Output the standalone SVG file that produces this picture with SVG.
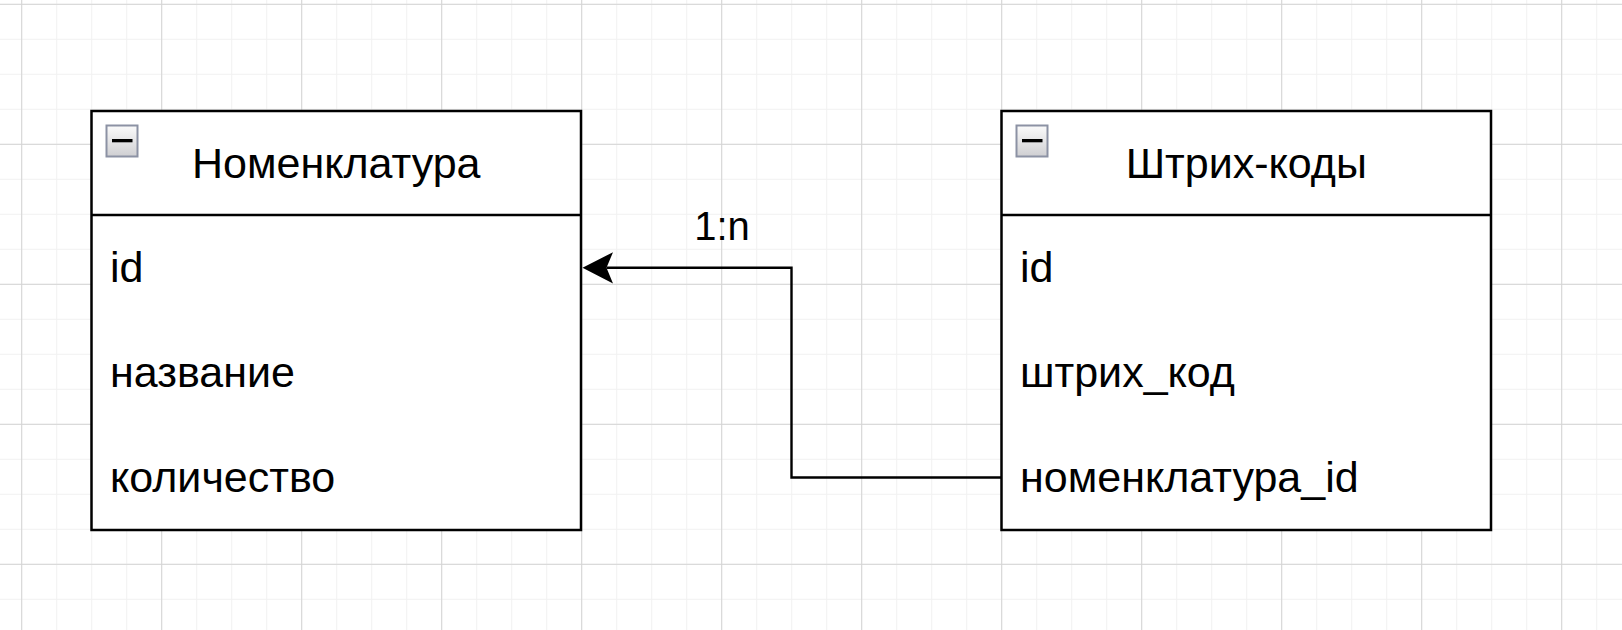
<svg xmlns="http://www.w3.org/2000/svg" width="1622" height="630" viewBox="0 0 1622 630">
  <style>
    .tbl { fill: #ffffff; stroke: #000000; stroke-width: 2.5; }
    .sep { stroke: #000000; stroke-width: 2.5; fill: none; }
    .title { font-family: "Liberation Sans", Arial, sans-serif; font-size: 43px; fill: #000000; text-anchor: middle; }
    .row { font-family: "Liberation Sans", Arial, sans-serif; font-size: 43px; fill: #000000; }
    .lbl { font-family: "Liberation Sans", Arial, sans-serif; font-size: 40px; fill: #000000; text-anchor: middle; }
    .edge { fill: none; stroke: #000000; stroke-width: 2.4; stroke-linejoin: miter; }
    .iconbox { fill: url(#iconGrad); stroke: #8c92a4; stroke-width: 2; }
  </style>
  <defs>
    <pattern id="minor" x="21.2" y="3.8" width="35" height="35" patternUnits="userSpaceOnUse">
      <path d="M 0 0.5 H 35 M 0.5 0 V 35" stroke="#f1f1f1" stroke-width="1" fill="none"/>
    </pattern>
    <pattern id="major" x="21.2" y="3.8" width="140" height="140" patternUnits="userSpaceOnUse">
      <path d="M 0 0.5 H 140 M 0.5 0 V 140" stroke="#d4d4d4" stroke-width="1" fill="none"/>
    </pattern>
    <linearGradient id="iconGrad" x1="0" y1="0" x2="0" y2="1">
      <stop offset="0" stop-color="#fbfbfb"/>
      <stop offset="1" stop-color="#cfcfd2"/>
    </linearGradient>
    <marker id="arrow" markerUnits="userSpaceOnUse" markerWidth="40" markerHeight="40" refX="0" refY="0" orient="auto" overflow="visible">
      <path d="M 24 0 L -6.5 -15.6 L 0 0 L -6.5 15.6 Z" fill="#000000" stroke="none"/>
    </marker>
  </defs>

  <rect x="0" y="0" width="1622" height="630" fill="#ffffff"/>
  <rect x="0" y="0" width="1622" height="630" fill="url(#minor)"/>
  <rect x="0" y="0" width="1622" height="630" fill="url(#major)"/>

  <g id="connectors">
    <path class="edge" d="M 1001.5 477.5 H 791.5 V 267.8 H 606.5" marker-end="url(#arrow)"/>
    <text class="lbl" x="722" y="239.5">1:n</text>
  </g>

  <g id="node-nomenklatura">
    <rect class="tbl" x="91.5" y="111" width="489.5" height="419"/>
    <line class="sep" x1="91.5" y1="215" x2="581" y2="215"/>
    <rect class="iconbox" x="106.5" y="125.5" width="31" height="31"/>
    <rect x="112" y="139" width="20.5" height="3.3" fill="#000000"/>
    <text class="title" x="336.25" y="177.5">Номенклатура</text>
    <text class="row" x="110" y="282">id</text>
    <text class="row" x="110" y="387">название</text>
    <text class="row" x="110" y="492">количество</text>
  </g>

  <g id="node-shtrihkody">
    <rect class="tbl" x="1001.5" y="111" width="489.5" height="419"/>
    <line class="sep" x1="1001.5" y1="215" x2="1491" y2="215"/>
    <rect class="iconbox" x="1016.5" y="125.5" width="31" height="31"/>
    <rect x="1022" y="139" width="20.5" height="3.3" fill="#000000"/>
    <text class="title" x="1246.25" y="177.5">Штрих-коды</text>
    <text class="row" x="1020" y="282">id</text>
    <text class="row" x="1020" y="387">штрих_код</text>
    <text class="row" x="1020" y="492">номенклатура_id</text>
  </g>
</svg>
